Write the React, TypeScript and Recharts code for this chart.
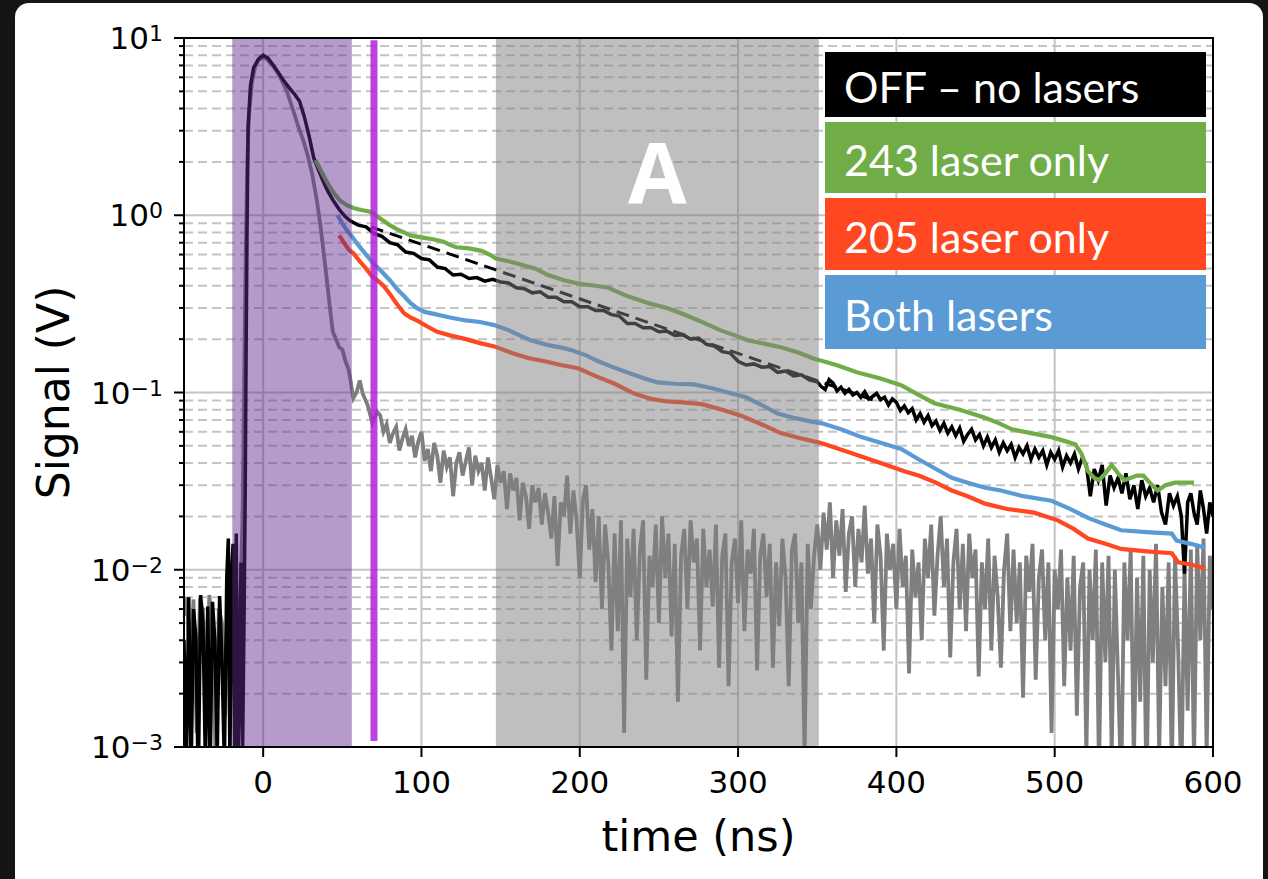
import React from 'react'
import {
  LineChart,
  Line,
  XAxis,
  YAxis,
  CartesianGrid,
  ReferenceArea,
  ReferenceLine,
  Legend,
  Label,
} from 'recharts'

type Pt = [number, number]

// OFF – no lasers (black): pre-trigger noise, pulse, then decay
const offPoints: Pt[] = [
  [-50, 0.004], [-48.5, 0.0008], [-47, 0.007], [-45.5, 0.0007], [-44, 0.006], [-42.5, 0.0042],
  [-41, 0.0006], [-39.5, 0.0072], [-38, 0.005], [-36.5, 0.0008], [-35, 0.0062], [-33.5, 0.0007],
  [-32, 0.0066], [-30.5, 0.004], [-29, 0.0009], [-27.5, 0.0071], [-26, 0.003], [-24.5, 0.0008],
  [-23, 0.009], [-22, 0.015], [-21, 0.0008], [-20, 0.0095], [-19, 0.014], [-18, 0.0009],
  [-17, 0.016], [-16, 0.0007], [-15, 0.0022], [-14, 0.011], [-13, 0.0009], [-12, 0.006],
  [-11.3, 0.03], [-10.8, 0.15], [-10.2, 0.8], [-9.5, 3.2], [-8, 5.4], [-6, 6.8], [-3, 7.6],
  [0, 8.0], [3, 7.7], [6, 7.1], [9, 6.5], [12.7, 5.8], [16, 5.3], [20, 4.8], [23, 4.4],
  [26, 3.6], [29, 2.8], [32, 2.1], [35, 1.8], [38, 1.55], [41, 1.36], [44, 1.22], [48, 1.08],
  [52, 0.98], [55, 0.93], [60, 0.88], [65, 0.86], [70, 0.79], [75, 0.76], [80, 0.7], [85, 0.68],
  [90, 0.62], [95, 0.61], [100, 0.57], [105, 0.56], [110, 0.51], [115, 0.5], [120, 0.46],
  [125, 0.465], [130, 0.44], [135, 0.445], [140, 0.425], [145, 0.435], [150, 0.42], [155, 0.415],
  [160, 0.39], [165, 0.385], [170, 0.365], [175, 0.37], [180, 0.345], [185, 0.345], [190, 0.325],
  [195, 0.325], [200, 0.305], [205, 0.305], [210, 0.29], [215, 0.29], [220, 0.275], [225, 0.27],
  [230, 0.245], [235, 0.245], [240, 0.232], [245, 0.232], [250, 0.22], [255, 0.222], [260, 0.21],
  [265, 0.212], [270, 0.2], [275, 0.203], [280, 0.187], [285, 0.183], [290, 0.17], [295, 0.167],
  [300, 0.15], [305, 0.143], [310, 0.145], [315, 0.139], [320, 0.14], [325, 0.13], [330, 0.132],
  [335, 0.124], [340, 0.126], [345, 0.118], [350, 0.115], [352.5, 0.108], [355, 0.104],
  [357.5, 0.118], [360, 0.113], [362.5, 0.102], [365, 0.107], [367.5, 0.099], [370, 0.104],
  [372.5, 0.097], [375, 0.1], [377.5, 0.094], [380, 0.101], [382.5, 0.092], [385, 0.095],
  [387.5, 0.099], [390, 0.091], [392.5, 0.094], [395, 0.085], [397.5, 0.092], [400, 0.088],
  [402.5, 0.079], [405, 0.084], [407.5, 0.077], [410, 0.081], [412.5, 0.07], [415, 0.076],
  [417.5, 0.068], [420, 0.074], [422.5, 0.065], [425, 0.069], [427.5, 0.061], [430, 0.067],
  [432.5, 0.059], [435, 0.064], [437.5, 0.057], [440, 0.063], [442.5, 0.053], [445, 0.058],
  [447.5, 0.062], [450, 0.054], [452.5, 0.058], [455, 0.05], [457.5, 0.056], [460, 0.049],
  [462.5, 0.054], [465, 0.046], [467.5, 0.052], [470, 0.047], [472.5, 0.051], [475, 0.043],
  [477.5, 0.049], [480, 0.045], [482.5, 0.05], [485, 0.042], [487.5, 0.048], [490, 0.043],
  [492.5, 0.047], [495, 0.039], [497.5, 0.046], [500, 0.042], [502.5, 0.047], [505, 0.038],
  [507.5, 0.044], [510, 0.04], [512.5, 0.045], [515, 0.037], [517.5, 0.043], [520, 0.039],
  [522.5, 0.026], [525, 0.037], [527.5, 0.032], [530, 0.039], [532.5, 0.023], [535, 0.034],
  [537.5, 0.029], [540, 0.033], [542.5, 0.027], [545, 0.035], [547.5, 0.025], [550, 0.03],
  [552.5, 0.022], [555, 0.032], [557.5, 0.026], [560, 0.029], [562.5, 0.024], [565, 0.03],
  [567.5, 0.021], [570, 0.018], [572.5, 0.027], [575, 0.023], [577.5, 0.026], [580, 0.02],
  [582, 0.0095], [584, 0.024], [586, 0.027], [588, 0.021], [590, 0.018], [592, 0.028],
  [594, 0.022], [596, 0.016], [598, 0.024], [600, 0.02],
]

// grey trace (not in the legend): same pulse, faster decay into the noise floor
const greyPulse: Pt[] = [
  [-50, 0.0055], [-48, 0.007], [-46, 0.0025], [-44, 0.0068], [-42, 0.0012], [-40, 0.0064],
  [-38, 0.006], [-36, 0.0018], [-34, 0.0072], [-32, 0.0045], [-30, 0.0008], [-28, 0.006],
  [-26, 0.005], [-24, 0.0015], [-22, 0.012], [-20, 0.004], [-18, 0.013], [-16, 0.003],
  [-14, 0.009], [-13, 0.02], [-12, 0.12], [-11, 0.6], [-10, 2.0], [-9, 3.6], [-7, 5.7],
  [-5, 6.9], [-3, 7.5], [0, 7.8], [3, 7.5], [6, 7.0], [9, 6.4], [12, 5.7], [15, 5.0], [19, 3.9],
  [22, 3.2], [25, 2.7], [28, 2.2], [31, 1.7], [34, 1.2], [36, 0.9], [38, 0.64], [40, 0.45],
  [42, 0.31], [44, 0.22], [46, 0.2], [48, 0.18], [50, 0.175], [52, 0.15], [54, 0.135], [55, 0.12],
  [57, 0.093], [59, 0.1], [61, 0.117], [63, 0.098], [66, 0.085], [69, 0.067], [72, 0.078],
]

// grey noise tail, sampled every 2 ns from 74 ns
const greyTailStart = 74
const greyTailStep = 2
const greyTail = [
  0.074, 0.06, 0.066, 0.052, 0.059, 0.064, 0.047, 0.055, 0.062, 0.05,
  0.057, 0.043, 0.053, 0.06, 0.041, 0.048, 0.036, 0.052, 0.044, 0.031,
  0.047, 0.038, 0.043, 0.026, 0.04, 0.046, 0.034, 0.041, 0.049, 0.03,
  0.044, 0.036, 0.04, 0.028, 0.043, 0.033, 0.025, 0.039, 0.031, 0.036,
  0.022, 0.035, 0.028, 0.033, 0.019, 0.031, 0.026, 0.017, 0.03, 0.024,
  0.029, 0.018, 0.027, 0.021, 0.015, 0.026, 0.0105, 0.024, 0.02, 0.034,
  0.016, 0.028, 0.019, 0.009, 0.025, 0.03, 0.013, 0.022, 0.0085, 0.02,
  0.006, 0.018, 0.011, 0.0035, 0.016, 0.0045, 0.019, 0.0012, 0.015, 0.007,
  0.017, 0.004, 0.013, 0.019, 0.0024, 0.012, 0.008, 0.018, 0.005, 0.02,
  0.009, 0.016, 0.0042, 0.014, 0.0018, 0.012, 0.017, 0.006, 0.019, 0.011,
  0.015, 0.0035, 0.017, 0.008, 0.013, 0.0062, 0.018, 0.0028, 0.012, 0.016,
  0.0022, 0.011, 0.015, 0.0065, 0.019, 0.0045, 0.013, 0.0095, 0.017, 0.0027,
  0.012, 0.016, 0.007, 0.014, 0.0028, 0.011, 0.0048, 0.015, 0.009, 0.0022,
  0.013, 0.016, 0.005, 0.011, 0.0009, 0.014, 0.006, 0.012, 0.018, 0.01,
  0.021, 0.013, 0.024, 0.009, 0.019, 0.012, 0.022, 0.0075, 0.016, 0.02,
  0.008, 0.017, 0.011, 0.023, 0.0095, 0.015, 0.005, 0.018, 0.012, 0.0035,
  0.016, 0.01, 0.014, 0.006, 0.017, 0.008, 0.012, 0.0026, 0.013, 0.007,
  0.011, 0.004, 0.015, 0.009, 0.018, 0.0055, 0.012, 0.02, 0.008, 0.015,
  0.0032, 0.011, 0.017, 0.006, 0.014, 0.0045, 0.016, 0.009, 0.013, 0.0025,
  0.011, 0.006, 0.015, 0.0035, 0.012, 0.007, 0.0028, 0.01, 0.016, 0.0045,
  0.013, 0.005, 0.011, 0.0019, 0.012, 0.0075, 0.014, 0.0024, 0.009, 0.013,
  0.004, 0.011, 0.0012, 0.01, 0.006, 0.013, 0.0022, 0.009, 0.0035, 0.012,
  0.0015, 0.008, 0.011, 0.0009, 0.01, 0.004, 0.013, 0.0007, 0.011, 0.003,
  0.012, 0.0009, 0.01, 0.0025, 0.0006, 0.011, 0.004, 0.013, 0.0008, 0.009,
  0.0018, 0.012, 0.0005, 0.01, 0.003, 0.014, 0.0009, 0.008, 0.0022, 0.011,
  0.0007, 0.012, 0.0035, 0.0006, 0.01, 0.0016, 0.013, 0.0008, 0.014, 0.004,
  0.015, 0.0009, 0.012, 0.006,
]

// exponential fit to the OFF trace (dashed)
const fitPoints: Pt[] = [[68, 0.86], [385, 0.091]]

const greenPoints: Pt[] = [
  [33, 2.05], [37, 1.75], [41, 1.5], [45, 1.32], [49, 1.2], [53, 1.14], [57, 1.1], [62, 1.07],
  [67, 1.05], [70, 1.02], [73, 0.97], [76, 0.93], [80, 0.88], [85, 0.83], [89, 0.8], [93, 0.77],
  [100, 0.75], [108, 0.73], [114, 0.71], [118, 0.68], [122, 0.66], [130, 0.65], [138, 0.63],
  [143, 0.6], [147, 0.57], [155, 0.55], [165, 0.52], [172, 0.5], [180, 0.46], [190, 0.43],
  [200, 0.41], [210, 0.4], [218, 0.39], [230, 0.35], [243, 0.32], [255, 0.3], [264, 0.28],
  [275, 0.255], [289, 0.224], [298, 0.21], [306, 0.197], [317, 0.188], [327, 0.18], [338, 0.168],
  [348, 0.155], [356, 0.148], [363, 0.142], [375, 0.13], [390, 0.12], [403, 0.11], [414, 0.097],
  [424, 0.087], [440, 0.08], [456, 0.072], [465, 0.067], [473, 0.062], [485, 0.059], [498, 0.056],
  [507, 0.053], [513, 0.051], [517, 0.045], [521, 0.036], [525, 0.033], [528, 0.032], [532, 0.035],
  [536, 0.039], [540, 0.035], [544, 0.032], [548, 0.033], [552, 0.034], [556, 0.034], [560, 0.031],
  [565, 0.028], [570, 0.03], [576, 0.031], [582, 0.031], [588, 0.031],
]

const redPoints: Pt[] = [
  [48, 0.77], [51, 0.7], [54, 0.64], [57, 0.61], [61, 0.55], [65, 0.5], [69, 0.45], [72, 0.43],
  [76, 0.4], [80, 0.36], [84, 0.32], [89, 0.28], [93, 0.265], [97, 0.255], [104, 0.235],
  [110, 0.22], [118, 0.21], [128, 0.2], [137, 0.19], [146, 0.182], [158, 0.166], [168, 0.156],
  [178, 0.15], [188, 0.143], [199, 0.137], [209, 0.125], [222, 0.112], [234, 0.099], [245, 0.092],
  [255, 0.089], [265, 0.088], [277, 0.086], [290, 0.08], [302, 0.074], [315, 0.066], [327, 0.059],
  [340, 0.055], [352, 0.052], [370, 0.046], [390, 0.04], [405, 0.036], [414, 0.034], [425, 0.031],
  [435, 0.028], [445, 0.026], [456, 0.0236], [470, 0.022], [487, 0.021], [502, 0.019], [512, 0.017],
  [521, 0.015], [532, 0.014], [542, 0.0131], [558, 0.0127], [574, 0.0124], [578, 0.011],
  [586, 0.0107], [595, 0.0102],
]

const bluePoints: Pt[] = [
  [47, 1.0], [50, 0.9], [53, 0.82], [56, 0.76], [60, 0.68], [65, 0.6], [70, 0.53], [75, 0.48],
  [80, 0.43], [85, 0.38], [89, 0.35], [93, 0.32], [97, 0.3], [102, 0.285], [110, 0.275],
  [118, 0.265], [128, 0.255], [137, 0.25], [146, 0.24], [155, 0.225], [162, 0.21], [169, 0.197],
  [180, 0.185], [190, 0.178], [196, 0.172], [204, 0.162], [211, 0.151], [220, 0.14], [232, 0.128],
  [241, 0.12], [249, 0.114], [260, 0.112], [272, 0.111], [285, 0.105], [297, 0.098], [305, 0.094],
  [315, 0.085], [325, 0.076], [335, 0.072], [345, 0.069], [353, 0.067], [365, 0.062], [378, 0.056],
  [390, 0.052], [403, 0.048], [414, 0.042], [425, 0.037], [435, 0.033], [445, 0.031], [456, 0.029],
  [466, 0.028], [480, 0.026], [498, 0.0245], [510, 0.022], [521, 0.0196], [532, 0.018],
  [542, 0.0167], [558, 0.0163], [574, 0.016], [577, 0.0146], [586, 0.014], [595, 0.0133],
]

const xTicks = [0, 100, 200, 300, 400, 500, 600]
const xGridValues = [0, 100, 200, 300, 400, 500]
const yMajor = [0.001, 0.01, 0.1, 1, 10]
const yMinor = [
  0.002, 0.003, 0.004, 0.005, 0.006, 0.007, 0.008, 0.009,
  0.02, 0.03, 0.04, 0.05, 0.06, 0.07, 0.08, 0.09,
  0.2, 0.3, 0.4, 0.5, 0.6, 0.7, 0.8, 0.9,
  2, 3, 4, 5, 6, 7, 8, 9,
]
const yExponents = ['−3', '−2', '−1', '0', '1']

const legendLabels = ['OFF – no lasers', '243 laser only', '205 laser only', 'Both lasers']
const legendColors = ['#000000', '#70ad47', '#ff4721', '#5b9bd5']
const legendHeights = [65, 71, 72, 74]

const toRows = (pts: Pt[]) => pts.map(([t, v]) => ({ t, v }))
const greyRows = [
  ...toRows(greyPulse),
  ...greyTail.map((v, i) => ({ t: greyTailStart + i * greyTailStep, v })),
]

const FONT = '"DejaVu Sans", sans-serif'
const TICK_SIZE = 10
const TICK_GAP = 12

const LogTick = (props: any) => {
  const { x, y, payload } = props
  const axisX = x + TICK_SIZE + TICK_GAP
  const idx = yMajor.indexOf(payload.value)
  const major = idx >= 0
  return (
    <g>
      <line
        x1={axisX - (major ? TICK_SIZE : 5)}
        x2={axisX}
        y1={y}
        y2={y}
        stroke='#000'
        strokeWidth={2}
      />
      {major && (
        <text
          x={x + 1}
          y={y + 11}
          textAnchor='end'
          fontSize={31}
          fontFamily={FONT}
          fill='#000'
        >
          10
          <tspan
            dy={-8}
            fontSize={22}
          >
            {yExponents[idx]}
          </tspan>
        </text>
      )}
    </g>
  )
}

const LegendBoxes = () => (
  <div style={{ display: 'flex', flexDirection: 'column', gap: 5 }}>
    {legendLabels.map((label, i) => (
      <div
        key={label}
        style={{
          background: legendColors[i],
          color: '#fff',
          height: legendHeights[i],
          display: 'flex',
          alignItems: 'center',
          paddingLeft: 19,
          paddingTop: 5,
          fontFamily: 'Lato, "Open Sans", sans-serif',
          fontSize: 43,
          lineHeight: 1.2,
          boxSizing: 'border-box',
        }}
      >
        {label}
      </div>
    ))}
  </div>
)

export default function App() {
  return (
    <div
      style={{
        position: 'absolute',
        left: 0,
        top: 0,
        width: 1268,
        height: 879,
        background: '#151515',
        overflow: 'hidden',
      }}
    >
      <div
        style={{
          position: 'absolute',
          left: 15,
          top: 3,
          width: 1248,
          height: 900,
          background: '#fff',
          borderRadius: 14,
        }}
      />
      <div style={{ position: 'absolute', left: 0, top: 0 }}>
        <LineChart
          width={1268}
          height={879}
          margin={{ top: 38, right: 55, bottom: 72, left: 0 }}
        >
          <CartesianGrid
            horizontalValues={yMajor}
            verticalValues={xGridValues}
            stroke='#c4c4c4'
            strokeWidth={2}
          />
          <CartesianGrid
            horizontalValues={yMinor}
            vertical={false}
            stroke='#c4c4c4'
            strokeWidth={2}
            strokeDasharray='9 5'
          />
          <XAxis
            dataKey='t'
            type='number'
            domain={[-50, 600]}
            allowDataOverflow
            ticks={xTicks}
            interval={0}
            height={60}
            tickSize={TICK_SIZE}
            tickMargin={14}
            axisLine={{ stroke: '#000', strokeWidth: 2 }}
            tickLine={{ stroke: '#000', strokeWidth: 2 }}
            tick={{ fontSize: 31, fill: '#000', fontFamily: FONT }}
          >
            <Label
              content={(p: any) => (
                <text
                  x={p.viewBox.x + p.viewBox.width / 2}
                  y={p.viewBox.y + 104}
                  textAnchor='middle'
                  fontSize={43}
                  fontFamily={FONT}
                  fill='#000'
                >
                  time (ns)
                </text>
              )}
            />
          </XAxis>
          <YAxis
            type='number'
            scale='log'
            domain={[0.001, 10]}
            allowDataOverflow
            ticks={[...yMajor, ...yMinor]}
            interval={0}
            width={184}
            tickSize={TICK_SIZE}
            tickMargin={TICK_GAP}
            axisLine={{ stroke: '#000', strokeWidth: 2 }}
            tickLine={false}
            tick={<LogTick />}
          >
            <Label
              content={(p: any) => {
                const cx = p.viewBox.x + 69
                const cy = p.viewBox.y + p.viewBox.height / 2
                return (
                  <text
                    x={cx}
                    y={cy}
                    textAnchor='middle'
                    fontSize={44}
                    fontFamily={FONT}
                    fill='#000'
                    transform={`rotate(-90, ${cx}, ${cy})`}
                  >
                    Signal (V)
                  </text>
                )
              }}
            />
          </YAxis>

          <Line
            data={greyRows}
            dataKey='v'
            stroke='#7f7f7f'
            strokeWidth={3.8}
            dot={false}
            isAnimationActive={false}
          />
          <Line
            data={toRows(offPoints)}
            dataKey='v'
            stroke='#000'
            strokeWidth={3.5}
            dot={false}
            isAnimationActive={false}
          />
          <Line
            data={toRows(fitPoints)}
            dataKey='v'
            stroke='#000'
            strokeWidth={3}
            strokeDasharray='13 7'
            dot={false}
            isAnimationActive={false}
          />
          <Line
            data={toRows(bluePoints)}
            dataKey='v'
            stroke='#5b9bd5'
            strokeWidth={4.2}
            dot={false}
            isAnimationActive={false}
          />
          <Line
            data={toRows(redPoints)}
            dataKey='v'
            stroke='#ff4721'
            strokeWidth={4.2}
            dot={false}
            isAnimationActive={false}
          />
          <Line
            data={toRows(greenPoints)}
            dataKey='v'
            stroke='#70ad47'
            strokeWidth={4.2}
            dot={false}
            isAnimationActive={false}
          />

          {/* purple excitation window and grey integration window A, drawn over the traces */}
          <ReferenceArea
            x1={-19.5}
            x2={56}
            fill='#602a8e'
            fillOpacity={0.47}
            zIndex={600}
          />
          <ReferenceArea
            x1={147}
            x2={351}
            fill='#808080'
            fillOpacity={0.5}
            zIndex={600}
            label={(p: any) => (
              <text
                x={p.viewBox.x + p.viewBox.width / 2}
                y={p.viewBox.y + 165}
                textAnchor='middle'
                fontSize={85}
                fontWeight={700}
                fontFamily='"Open Sans", sans-serif'
                fill='#fff'
              >
                A
              </text>
            )}
          />
          <ReferenceLine
            segment={[
              { x: 70, y: 0.00108 },
              { x: 70, y: 9.7 },
            ]}
            stroke='#af23d7'
            strokeOpacity={0.85}
            strokeWidth={7}
            zIndex={650}
          />
          <ReferenceArea
            x1={-50}
            x2={600}
            y1={0.001}
            y2={10}
            fill='none'
            stroke='#000'
            strokeWidth={2}
            zIndex={700}
          />
          <Legend
            layout='vertical'
            align='center'
            verticalAlign='middle'
            wrapperStyle={{ left: 825, top: 52, width: 381 }}
            content={() => <LegendBoxes />}
          />
        </LineChart>
      </div>
    </div>
  )
}
